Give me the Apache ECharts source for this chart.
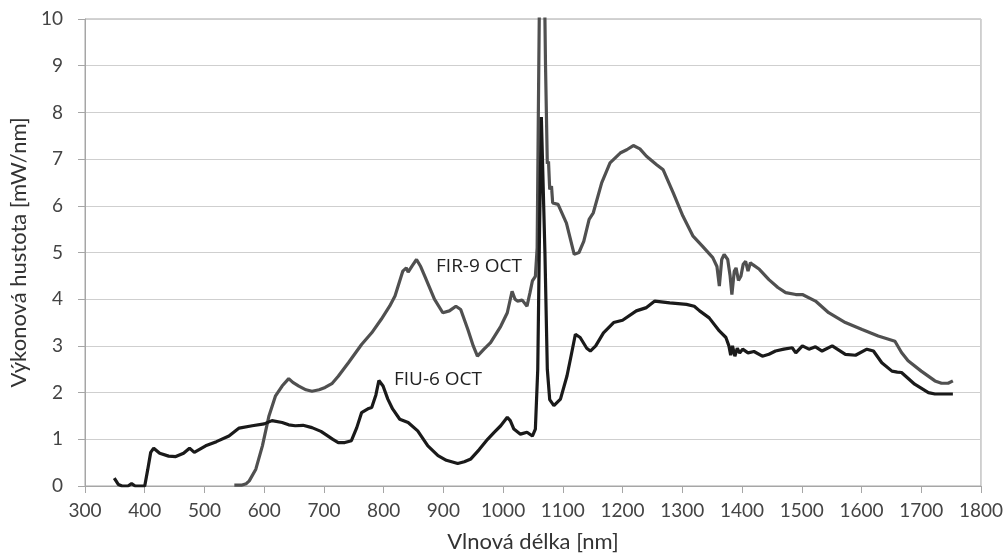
<!DOCTYPE html>
<html>
<head>
<meta charset="utf-8">
<script src="https://cdn.jsdelivr.net/npm/echarts@6/dist/echarts.min.js"></script>
<style>
  html, body { margin: 0; padding: 0; background: #fff; }
  #chart { width: 1006px; height: 559px; }
</style>
</head>
<body>
<div id="chart"></div>
<script>
// FIU-6 OCT (black curve)
var fiuX = [349, 356, 362, 372, 378, 384, 400, 405, 410, 415, 425, 440, 452, 465, 475, 483, 502, 520, 541, 558,
  580, 600, 613, 630, 641, 652, 665, 680, 695, 702, 715, 724, 735, 746, 755, 763, 775, 780, 787, 792,
  799, 807, 815, 827, 841, 857, 874, 891, 905, 924, 935, 946, 960, 974, 985, 996, 1007, 1012, 1018, 1029,
  1040, 1049, 1054, 1058, 1061, 1064, 1067, 1070, 1074, 1078, 1085, 1096, 1107, 1114, 1121, 1129, 1140, 1146, 1155, 1168,
  1185, 1200, 1223, 1240, 1254, 1279, 1307, 1320, 1329, 1345, 1362, 1373, 1378, 1381, 1384, 1388, 1392, 1396, 1401, 1410,
  1420, 1434, 1445, 1456, 1470, 1484, 1490, 1501, 1512, 1523, 1534, 1551, 1573, 1590, 1609, 1620, 1634, 1651, 1660, 1667,
  1689, 1712, 1723, 1753];
var fiuY = [0.17, 0.03, 0.0, 0.0, 0.05, 0.0, 0.0, 0.35, 0.72, 0.81, 0.70, 0.64, 0.63, 0.70, 0.81, 0.72, 0.86, 0.95, 1.07, 1.24,
  1.29, 1.33, 1.40, 1.36, 1.31, 1.29, 1.30, 1.25, 1.17, 1.11, 1.00, 0.93, 0.93, 0.97, 1.25, 1.57, 1.66, 1.68, 1.95, 2.26,
  2.14, 1.86, 1.65, 1.43, 1.36, 1.18, 0.86, 0.65, 0.55, 0.48, 0.52, 0.58, 0.78, 1.00, 1.15, 1.29, 1.47, 1.40, 1.22, 1.11,
  1.15, 1.07, 1.22, 2.5, 5.5, 7.9, 7.9, 5.0, 2.5, 1.85, 1.72, 1.86, 2.36, 2.8, 3.25, 3.18, 2.95, 2.89, 3.0, 3.28,
  3.5, 3.55, 3.75, 3.82, 3.96, 3.92, 3.89, 3.85, 3.75, 3.60, 3.32, 3.18, 3.0, 2.8, 3.0, 2.78, 2.95, 2.85, 2.93, 2.85,
  2.88, 2.78, 2.82, 2.89, 2.93, 2.96, 2.85, 3.0, 2.93, 2.98, 2.89, 3.0, 2.82, 2.80, 2.93, 2.89, 2.64, 2.46, 2.44, 2.43,
  2.18, 2.0, 1.97, 1.97];

// FIR-9 OCT (grey curve)
var firX = [550, 563, 570, 575, 586, 597, 608, 619, 630, 641, 648, 658, 670, 680, 692, 702, 714, 724, 741, 763,
  780, 796, 810, 819, 832, 838, 841, 848, 855, 862, 869, 885, 899, 910, 921, 929, 941, 950, 957, 968,
  979, 996, 1007, 1015, 1020, 1024, 1032, 1040, 1045, 1049, 1054, 1057, 1059, 1062, 1068, 1071, 1074, 1076, 1078, 1081,
  1083, 1092, 1106, 1119, 1127, 1135, 1144, 1151, 1165, 1179, 1196, 1207, 1218, 1229, 1240, 1257, 1268, 1285, 1301, 1318,
  1334, 1351, 1358, 1362, 1366, 1370, 1376, 1380, 1383, 1387, 1390, 1394, 1398, 1402, 1406, 1410, 1414, 1418, 1429, 1445,
  1460, 1473, 1490, 1501, 1523, 1545, 1573, 1601, 1628, 1656, 1667, 1678, 1700, 1723, 1734, 1745, 1753];
var firY = [0.02, 0.02, 0.05, 0.11, 0.36, 0.86, 1.50, 1.93, 2.14, 2.30, 2.22, 2.14, 2.06, 2.03, 2.06, 2.11, 2.20, 2.35, 2.64, 3.03,
  3.28, 3.57, 3.85, 4.07, 4.60, 4.67, 4.58, 4.72, 4.85, 4.70, 4.49, 4.0, 3.71, 3.75, 3.85, 3.78, 3.35, 3.0, 2.78, 2.93,
  3.07, 3.42, 3.71, 4.17, 4.0, 3.96, 3.98, 3.85, 4.14, 4.39, 4.49, 5.1, 8.0, 12.0, 12.0, 9.0, 6.9, 6.95, 6.35, 6.42,
  6.06, 6.03, 5.63, 4.96, 5.0, 5.24, 5.71, 5.85, 6.49, 6.92, 7.13, 7.20, 7.29, 7.22, 7.06, 6.88, 6.77, 6.27, 5.78, 5.35,
  5.13, 4.89, 4.7, 4.28, 4.85, 4.96, 4.85, 4.5, 4.10, 4.6, 4.67, 4.4, 4.49, 4.75, 4.81, 4.6, 4.78, 4.74, 4.64, 4.42,
  4.25, 4.14, 4.10, 4.10, 3.96, 3.71, 3.50, 3.35, 3.21, 3.10, 2.86, 2.68, 2.46, 2.25, 2.20, 2.20, 2.25];

function pairs(xs, ys) {
  var out = [];
  for (var i = 0; i < xs.length; i++) out.push([xs[i], ys[i]]);
  return out;
}

var chart = echarts.init(document.getElementById('chart'));
var tickFont = 'Lato, "Noto Sans", sans-serif';

var option = {
  animation: false,
  backgroundColor: '#fff',
  grid: {
    left: 85, right: 18, top: 19, bottom: 73,
    show: true, borderColor: '#a6a6a6', borderWidth: 1
  },
  xAxis: {
    type: 'value',
    min: 300, max: 1800, interval: 100,
    name: 'Vlnová délka [nm]',
    nameLocation: 'middle',
    nameGap: 45,
    nameTextStyle: { fontFamily: tickFont, fontSize: 22, color: '#333' },
    axisLine: { show: true, lineStyle: { color: '#a6a6a6', width: 1 } },
    axisTick: { show: true, length: 7, lineStyle: { color: '#a6a6a6' } },
    axisLabel: {
      margin: 15, fontFamily: tickFont, fontSize: 19, color: '#444',
      formatter: function (v) { return String(v); }
    },
    splitLine: { show: false }
  },
  yAxis: {
    type: 'value',
    min: 0, max: 10, interval: 1,
    name: 'Výkonová hustota [mW/nm]',
    nameLocation: 'middle',
    nameGap: 52,
    nameTextStyle: { fontFamily: tickFont, fontSize: 22, color: '#333' },
    axisLine: { show: true, lineStyle: { color: '#a6a6a6', width: 1 } },
    axisTick: { show: true, length: 7, lineStyle: { color: '#a6a6a6' } },
    axisLabel: { margin: 22, fontFamily: tickFont, fontSize: 19, color: '#444' },
    splitLine: { show: true, lineStyle: { color: '#cfcfcf', width: 1 } }
  },
  series: [
    {
      name: 'FIR-9 OCT',
      type: 'line',
      data: pairs(firX, firY),
      showSymbol: false,
      clip: true,
      lineStyle: { color: '#505050', width: 3.2 },
      z: 2
    },
    {
      name: 'FIU-6 OCT',
      type: 'line',
      data: pairs(fiuX, fiuY),
      showSymbol: false,
      clip: true,
      lineStyle: { color: '#1a1a1a', width: 3.2 },
      z: 3
    }
  ],
  graphic: [
    {
      type: 'text', x: 479, y: 267,
      style: { text: 'FIR-9 OCT', fontFamily: '"Open Sans", sans-serif', fontSize: 19, fill: '#222',
        textAlign: 'center', textVerticalAlign: 'middle' }
    },
    {
      type: 'text', x: 438, y: 380,
      style: { text: 'FIU-6 OCT', fontFamily: '"Open Sans", sans-serif', fontSize: 19, fill: '#222',
        textAlign: 'center', textVerticalAlign: 'middle' }
    }
  ]
};

chart.setOption(option);
</script>
</body>
</html>
